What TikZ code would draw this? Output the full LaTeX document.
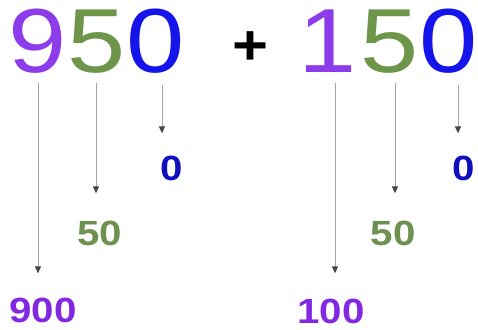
\documentclass[tikz,border=0pt]{standalone}
\usepackage{fontspec}
\setmainfont{Liberation Sans}
\usetikzlibrary{arrows.meta}
\definecolor{cpurple}{RGB}{140,60,235}
\definecolor{cgreen}{RGB}{110,150,75}
\definecolor{cblue}{RGB}{20,20,235}
\definecolor{lpurple}{RGB}{130,40,225}
\definecolor{lgreen}{RGB}{110,145,80}
\definecolor{lblue}{RGB}{15,15,190}
\definecolor{lgray}{RGB}{165,165,165}
\definecolor{dgray}{RGB}{70,70,70}
\tikzset{
  bigdigit/.style={inner sep=0pt, anchor=base, font=\fontsize{91}{91}\selectfont},
  lab/.style={inner sep=0pt, anchor=base, font=\fontsize{35}{35}\selectfont\bfseries},
  arr/.style={draw=lgray, line width=1pt, -{Triangle[width=6pt,length=7pt,color=dgray]}}
}
\newcommand{\wx}[1]{\scalebox{1.15}[1]{#1}}
\begin{document}
\begin{tikzpicture}[x=1pt,y=-1pt]
\useasboundingbox (0,0) rectangle (478,329);
% first number
\node[bigdigit, text=cpurple] (a9) at (38,72) {\wx{9}};
\node[bigdigit, text=cgreen]  (a5) at (97,72) {\wx{5}};
\node[bigdigit, text=cblue]   (a0) at (156,72) {\wx{0}};
% plus
\node[inner sep=0pt, font=\fontsize{56}{56}\selectfont\bfseries] (plus) at (250,48) {\scalebox{1.1}[1]{+}};
% second number
\node[bigdigit, text=cpurple] (b1) at (328,72) {\wx{1}};
\node[bigdigit, text=cgreen]  (b5) at (390,72) {\wx{5}};
\node[bigdigit, text=cblue]   (b0) at (449,72) {\wx{0}};
% labels
\node[lab, text=lblue]   (la0)   at (172,180) {\wx{0}};
\node[lab, text=lgreen]  (la50)  at (100,245) {\wx{50}};
\node[lab, text=lpurple] (la900) at (43,322) {\wx{900}};
\node[lab, text=lblue]   (lb0)   at (464,180) {\wx{0}};
\node[lab, text=lgreen]  (lb50)  at (393,245) {\wx{50}};
\node[lab, text=lpurple] (lb100) at (331,323) {\wx{100}};
% arrows
\draw[arr] ([yshift=-11pt]a9.base) -- ([yshift=24pt]a9.base |- la900.north);
\draw[arr] ([xshift=-1pt,yshift=-11pt]a5.base) -- ([xshift=-1pt,yshift=27pt]a5.base |- la50.north);
\draw[arr] ([xshift=6pt,yshift=-13pt]a0.base) -- ([xshift=6pt,yshift=22pt]a0.base |- la0.north);
\draw[arr] ([xshift=7pt,yshift=-11pt]b1.base) -- ([xshift=7pt,yshift=25pt]b1.base |- lb100.north);
\draw[arr] ([xshift=5pt,yshift=-11pt]b5.base) -- ([xshift=5pt,yshift=27pt]b5.base |- lb50.north);
\draw[arr] ([xshift=9pt,yshift=-13pt]b0.base) -- ([xshift=9pt,yshift=22pt]b0.base |- lb0.north);
\end{tikzpicture}
\end{document}
